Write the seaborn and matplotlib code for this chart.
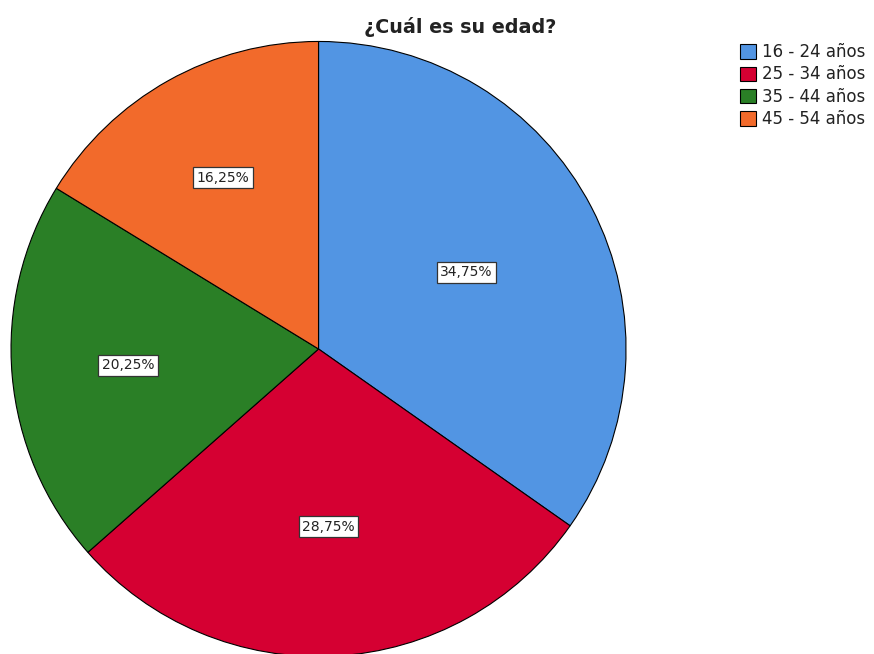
import matplotlib
matplotlib.use("Agg")
import matplotlib.pyplot as plt
import seaborn as sns
import numpy as np

# Data
categories = ["16 - 24 años", "25 - 34 años", "35 - 44 años", "45 - 54 años"]
percentages = [34.75, 28.75, 20.25, 16.25]
pct_labels = ["34,75%", "28,75%", "20,25%", "16,25%"]
colors = ["#5295E3", "#D50032", "#2A7F26", "#F26A2B"]

sns.set_style("white")
plt.rcParams['font.family'] = ['DejaVu Sans']

fig = plt.figure(figsize=(8.74, 6.54), dpi=100)
ax = fig.add_axes([0.0126, -0.0038, 0.7037, 0.9404])

wedges, _ = ax.pie(percentages, colors=colors, startangle=90, counterclock=False,
                   radius=1.0, wedgeprops={'edgecolor': 'black', 'linewidth': 0.8})
ax.set_xlim(-1, 1)
ax.set_ylim(-1, 1)
ax.set_aspect('equal')
for w in wedges:
    w.set_clip_on(False)

# percentage labels placed at the centroid of each wedge
for w, lab in zip(wedges, pct_labels):
    span = np.deg2rad(w.theta2 - w.theta1)
    mid = np.deg2rad((w.theta1 + w.theta2) / 2)
    d = 4 * np.sin(span / 2) / (3 * span)
    ax.text(d * np.cos(mid), d * np.sin(mid), lab, ha='center', va='center',
            fontsize=10, color='#222222',
            bbox=dict(boxstyle='square,pad=0.25', facecolor='white',
                      edgecolor='#333333', linewidth=0.9))

fig.text(0.526, 0.949, "¿Cuál es su edad?", ha='center', va='baseline', fontsize=13.8,
         fontweight='bold', color='#222222')

leg = fig.legend(wedges, categories, loc='upper left', bbox_to_anchor=(0.8467, 0.934),
                 frameon=False, fontsize=12, handlelength=0.96, handleheight=0.96,
                 handletextpad=0.36, labelspacing=0.26, borderpad=0, borderaxespad=0)
for t in leg.get_texts():
    t.set_color('#222222')

fig.savefig("out.png", dpi=100)
